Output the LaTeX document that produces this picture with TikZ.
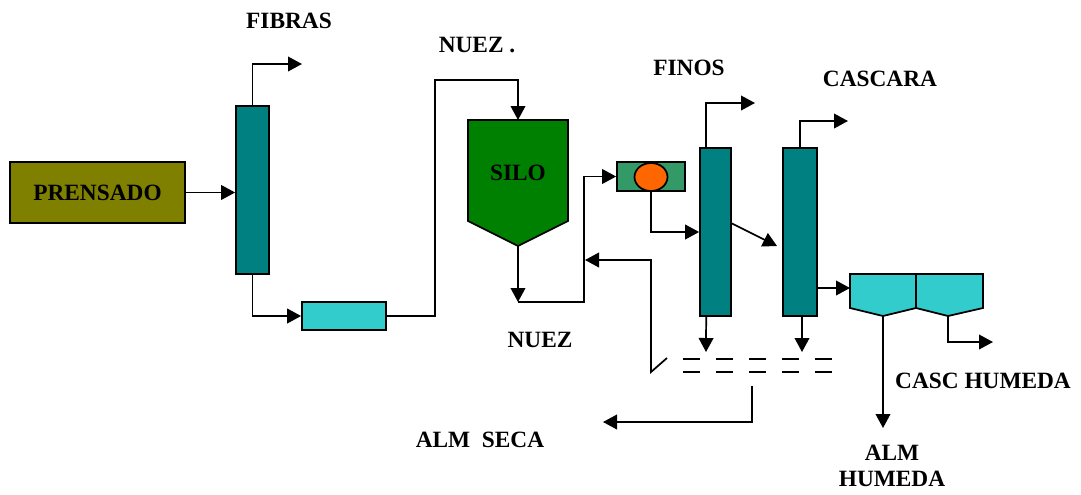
\documentclass[tikz,border=0pt]{standalone}
\usepackage{fontspec}
\setmainfont{Liberation Serif}
\usetikzlibrary{arrows.meta,calc,shapes.geometric}
\definecolor{olivebox}{HTML}{808000}
\definecolor{tealcol}{HTML}{008080}
\definecolor{cyanbox}{HTML}{33CCCC}
\definecolor{silogreen}{HTML}{008000}
\definecolor{seagreen}{HTML}{339966}
\definecolor{orangeball}{HTML}{FF6600}
\begin{document}
\begin{tikzpicture}[x=0.75pt,y=-0.75pt,
  outline/.style={draw=black,line width=1.3pt},
  box/.style={outline,rectangle,inner sep=0pt},
  column/.style={box,fill=tealcol,minimum height=126pt},
  arr/.style={line width=1.3pt,-{Triangle[length=10.5pt,width=11pt]}},
  plain/.style={line width=1.3pt},
  lbl/.style={font=\fontsize{17.5}{20}\selectfont\bfseries,inner sep=0pt,align=center}
]
\useasboundingbox (0,0) rectangle (1081,494);

% equipment
\node[box,fill=olivebox,minimum width=131.25pt,minimum height=45.75pt,lbl] (prensado) at (97.5,192.5) {PRENSADO};
\node[column,minimum width=24.75pt] (col1) at (252.5,190) {};
\node[box,fill=cyanbox,minimum width=63pt,minimum height=21pt] (conv) at (344,316) {};
\draw[outline,fill=silogreen] (468,120) -- (568,120) -- (568,221) -- (518,246) -- (468,221) -- cycle;
\coordinate (silotop) at (518,120);
\coordinate (silotip) at (518,246);
\node[lbl] (silo) at (518,173) {SILO};
\node[box,fill=seagreen,minimum width=51pt,minimum height=21.75pt] (feeder) at (651,176.5) {};
\node[outline,ellipse,fill=orangeball,minimum width=24.75pt,minimum height=21pt,inner sep=0pt] (ball) at (651,177) {};
\node[column,minimum width=23.25pt] (col2) at (715.5,232) {};
\node[column,minimum width=25.5pt] (col3) at (800,232) {};
\draw[outline,fill=cyanbox] (850,274) -- (916,274) -- (916,308) -- (883,316) -- (850,308) -- cycle;
\draw[outline,fill=cyanbox] (916,274) -- (983,274) -- (983,308) -- (948,316) -- (916,308) -- cycle;
\coordinate (cyc1in) at (850,288);
\coordinate (cyc1tip) at (883,316);
\coordinate (cyc2tip) at (948,316);

% free ends and bends
\coordinate (fibrasend) at (302,64);
\coordinate (nuezA) at (435,80);
\coordinate (nuezB) at (518,302);
\coordinate (j1) at (584,176.5);
\coordinate (rec1) at (667,358);
\coordinate (rec2) at (651,372);
\coordinate (rec4) at (585,260);
\coordinate (d1) at (731,223);
\coordinate (d2) at (777,246);
\coordinate (finosend) at (755,103);
\coordinate (cascend) at (848,121);
\coordinate (c3out) at (817,288);
\coordinate (s2) at (706,352);
\coordinate (s3) at (802,352);
\coordinate (secaA) at (752,386);
\coordinate (secaend) at (603,422);
\coordinate (humend) at (883,428);
\coordinate (cascH) at (993,342);

% connectors
\draw[arr] (prensado.east) -- (prensado.east -| col1.west);
\draw[arr] (col1.north) |- (fibrasend);
\draw[arr] (col1.south) |- (conv.west);
\draw[arr] (conv.east) -| (nuezA) -| (silotop);
\draw[arr] (silotip) -- (nuezB);
\draw[arr] (nuezB) -| (j1) -- (feeder.west);
\draw[arr] (rec1) -- (rec2) |- (rec4);
\draw[arr] (ball.south) |- (col2.west);
\draw[arr] (d1) -- (d2);
\draw[arr] ([xshift=-7pt]col2.north) |- (finosend);
\draw[arr] (col3.north) |- (cascend);
\draw[arr] (c3out) -- (cyc1in);
\draw[arr] ([xshift=-7pt]col2.south) -- (s2);
\draw[arr] ([xshift=1.5pt]col3.south) -- (s3);
\draw[arr] (secaA) |- (secaend);
\draw[arr] (cyc1tip) -- (humend);
\draw[arr] (cyc2tip) |- (cascH);

% screen (dashed double line)
\draw[plain,dash pattern=on 12.75pt off 12pt] (683,359) -- (840,359);
\draw[plain,dash pattern=on 12.75pt off 12pt] (683,372) -- (840,372);

% labels
\node[lbl] (fibras) at (289,21) {FIBRAS};
\node[lbl] (nuez1) at (477,45) {NUEZ .};
\node[lbl] (finos) at (689,68) {FINOS};
\node[lbl] (cascara) at (880,79) {CASCARA};
\node[lbl] (nuez2) at (540,340) {NUEZ};
\node[lbl] (cascl) at (983,381) {CASC HUMEDA};
\node[lbl] (almseca) at (480,440) {ALM\ \ SECA};
\node[lbl] (almh) at (892,466) {ALM\\HUMEDA};
\end{tikzpicture}
\end{document}
